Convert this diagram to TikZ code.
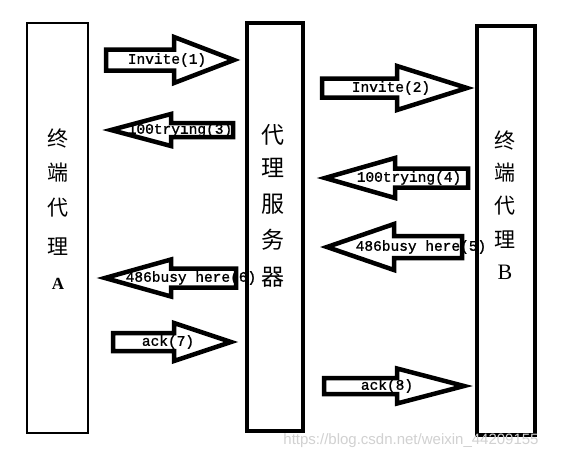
\documentclass[tikz,border=0pt]{standalone}
\usepackage{fontspec}
\newfontfamily\monof[FakeBold=1.2]{Liberation Mono}
\newfontfamily\cjkf{Noto Sans CJK SC}
\newfontfamily\serf{Liberation Serif}
\newfontfamily\wmf{Liberation Sans}
\tikzset{
  sigline/.style={line width=4.5pt, line join=miter},
  siglabel/.style={font=\monof\fontsize{14.5}{14.5}\selectfont, inner sep=0pt},
  agentbox/.style={draw, rectangle, inner sep=0pt},
  cjkchar/.style={font=\cjkf\fontsize{21}{21}\selectfont, inner sep=0pt},
  proxychar/.style={font=\cjkf\fontsize{23}{23}\selectfont, inner sep=0pt},
}
% #1 name, #2 tail x, #3 head base x, #4 tip x, #5 y centre, #6 shaft half, #7 head half, #8 label, #9 label x
\newcommand\sigarrow[9]{%
  \fill[white] ({#2},{#5-#6}) -- ({#3},{#5-#6}) -- ({#3},{#5-#7}) -- ({#4},{#5})
     -- ({#3},{#5+#7}) -- ({#3},{#5+#6}) -- ({#2},{#5+#6}) -- cycle;
  \node[siglabel] (#1) at ({#9},{#5}) {#8};
  \draw[sigline] ({#2},{#5-#6}) -- ({#3},{#5-#6}) -- ({#3},{#5-#7}) -- ({#4},{#5})
     -- ({#3},{#5+#7}) -- ({#3},{#5+#6}) -- ({#2},{#5+#6}) -- cycle;
}
\begin{document}
\begin{tikzpicture}[x=1pt,y=-1pt]
\useasboundingbox[fill=white] (0,0) rectangle (580,466);

% agent texts
\foreach \c/\yy [count=\i] in {终/138,端/173,代/208,理/247}
  \node[cjkchar] (la\i) at (58,\yy) {\c};
\node[font=\serf\bfseries\fontsize{17}{17}\selectfont, inner sep=0pt] (laA) at (58,284) {A};

\foreach \c/\yy [count=\i] in {代/135,理/168,服/204,务/240,器/277}
  \node[proxychar] (pr\i) at (273,\yy) {\c};

\foreach \c/\yy [count=\i] in {终/140,端/173,代/206,理/240}
  \node[cjkchar] (rb\i) at (505,\yy) {\c};
\node[font=\serf\fontsize{22}{22}\selectfont, inner sep=0pt] (rbB) at (505,272) {B};

% arrows
\sigarrow{m1}{106}{174}{234}{60}{10.5}{23}{Invite(1)}{167}
\sigarrow{m3}{233}{171}{111}{130}{7}{16}{100trying(3)}{180}
\sigarrow{m2}{322}{397}{467}{88}{9.5}{22}{Invite(2)}{391}
\sigarrow{m4}{468}{395}{325}{178}{9.5}{20}{100trying(4)}{409}
\sigarrow{m5}{462}{394}{327}{247}{11}{23}{486busy here(5)}{421}
\sigarrow{m6}{236}{171}{105}{278}{9.5}{18.5}{486busy here(6)}{191}
\sigarrow{m7}{113}{174}{231}{342}{9}{19}{ack(7)}{168}
\sigarrow{m8}{324}{397}{464}{386}{8}{17.5}{ack(8)}{387}

% boxes
\node[agentbox, line width=2.5pt, minimum width=61pt, minimum height=410pt] (A) at (57.5,228) {};
\node[agentbox, line width=4.5pt, minimum width=56pt, minimum height=408pt] (P) at (275,227) {};
\node[agentbox, line width=3.5pt, minimum width=58pt, minimum height=409pt] (B) at (506,230.5) {};

% watermark
\node[font=\wmf\fontsize{15}{15}\selectfont, text=black!18, inner sep=0pt] (wm) at (411,441) {https://blog.csdn.net/weixin\_44209155};
\end{tikzpicture}
\end{document}
